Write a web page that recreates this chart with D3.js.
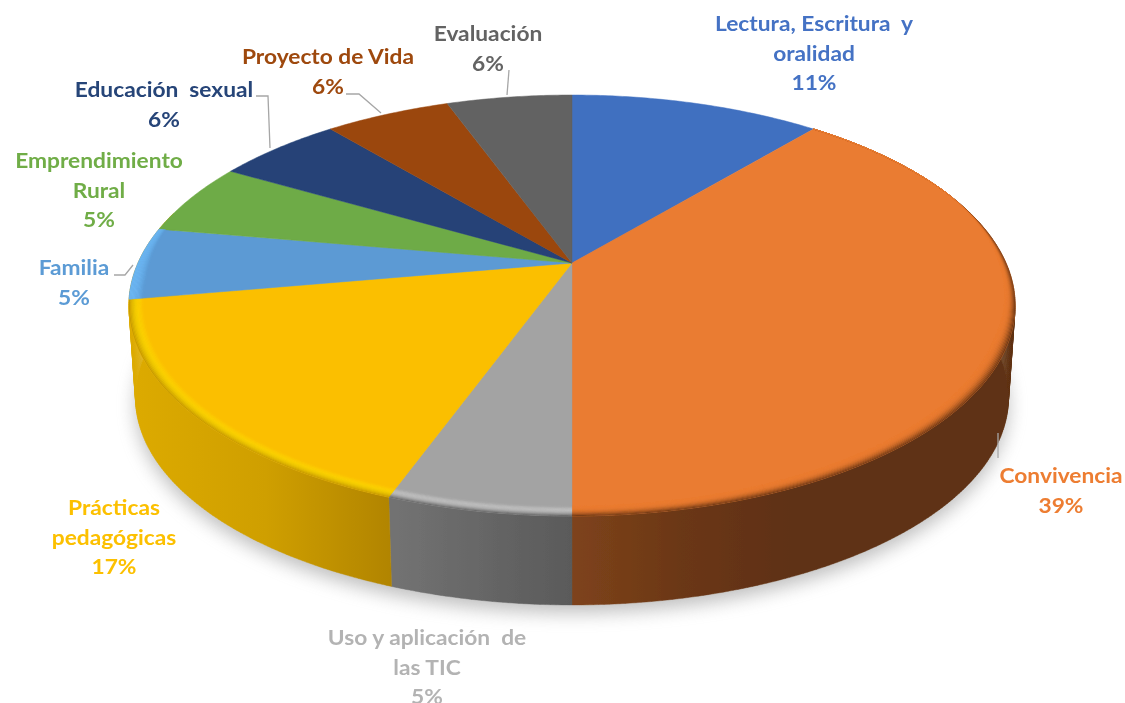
<!DOCTYPE html>
<html>
<head>
<meta charset="utf-8">
<script src="https://cdn.jsdelivr.net/npm/d3@7"></script>
<style>
  html, body { margin: 0; background: #fff; }
  text { font-family: Lato, "Open Sans", sans-serif; font-weight: 700; font-size: 20.5px; text-anchor: middle; white-space: pre; }
</style>
</head>
<body>
<svg id="chart" width="1125" height="703"></svg>
<script>
// values (the labels are rounded oddly in the original)
let categories = ["Lectura, Escritura  y oralidad", "Convivencia", "Uso y aplicación  de las TIC",
                  "Prácticas pedagógicas", "Familia", "Emprendimiento Rural",
                  "Educación  sexual", "Proyecto de Vida", "Evaluación"];
let counts = [4, 14, 2, 6, 2, 2, 2, 2, 2];
let percent_labels = ["11%", "39%", "5%", "17%", "5%", "5%", "6%", "6%", "6%"];
let label_lines = [["Lectura, Escritura  y", "oralidad"], ["Convivencia"], ["Uso y aplicación  de", "las TIC"],
                   ["Prácticas", "pedagógicas"], ["Familia"], ["Emprendimiento", "Rural"],
                   ["Educación  sexual"], ["Proyecto de Vida"], ["Evaluación"]];

let colors = ["#4170c0", "#ea7b30", "#a3a3a3", "#fbbf00", "#5b9ad4", "#6eab46", "#254377", "#9b470d", "#626262"];
let label_colors = ["#4472c4", "#ed7d31", "#b3b3b3", "#fcc000", "#5b9bd5", "#70ad47", "#264478", "#9e480e", "#636363"];

// layout: first line centre of each label
let label_pos = [[814, 24], [1061, 476], [427, 638], [114, 508], [74, 268], [99, 161], [164, 90], [328, 57], [488, 34]];
let leaders = [null, [[998, 433], [998, 458]], null, null, [[114, 275], [125, 275], [133, 265]], null,
               [[256, 96], [268, 96], [270, 148]], [[346, 94], [359, 94], [381, 113]], [[509, 70], [507, 95]]];

// side wall shading, left to right in screen space; only the front slices show a wall
let side_stops = {
  1: ["#7e431b", "#6b3716", "#5f3012", "#5e3012"],
  2: ["#727272", "#5a5a5a"],
  3: ["#dcaa00", "#cf9f00", "#b08300"]
};
let side_range = {1: [572, 900], 2: [397, 572], 3: [135, 397]};
let rim_stops = {
  1: ["#ea7b30", "#ea7b30", "#6a3615"],
  2: ["#a3a3a3", "#d6d6d6", "#606060"],
  3: ["#fbbf00", "#ffdf00", "#c39600"],
  4: ["#5b9ad4", "#6cb6f2", "#6cb6f2"]
};

let cx = 572, cy = 263, a = 434, b = 201.9, k = 0.2019;
let drop = 92.8, shrink = 0.985;
let text_stretch = 1.11;
let tau = 2 * Math.PI;
let deg = Math.PI / 180;

// tilted disc in perspective: r 0..1, angle clockwise from the top
function project(r, angle, bottom) {
  let u = r * Math.sin(angle), v = -r * Math.cos(angle), w = 1 - k * v;
  if (bottom) return [cx + shrink * a * u / w, cy + drop + shrink * b * v / w];
  return [cx + a * u / w, cy + b * v / w];
}

function samples(a0, a1) {
  let n = Math.max(2, Math.ceil((a1 - a0) / 0.01));
  return d3.range(n + 1).map(i => a0 + (a1 - a0) * i / n);
}

let line = d3.line();
let arcs = d3.pie().sort(null).value(d => d)(counts);
let svg = d3.select("#chart");
let defs = svg.append("defs");

defs.append("filter").attr("id", "shadow_blur")
  .attr("x", "-10%").attr("y", "-10%").attr("width", "120%").attr("height", "120%")
  .append("feGaussianBlur").attr("stdDeviation", 9);
let soft = defs.append("filter").attr("id", "soft");
soft.append("feGaussianBlur").attr("stdDeviation", 0.45);

Object.keys(side_stops).forEach(i => {
  let g = defs.append("linearGradient").attr("id", "side" + i)
    .attr("gradientUnits", "userSpaceOnUse")
    .attr("x1", side_range[i][0]).attr("x2", side_range[i][1]).attr("y1", 0).attr("y2", 0);
  side_stops[i].forEach((c, j) => {
    g.append("stop").attr("offset", j / (side_stops[i].length - 1)).attr("stop-color", c);
  });
});

// shadow under the pie
svg.append("path")
  .attr("d", line(samples(0, tau).map(t => {
    let p = project(1, t, true);
    return [p[0], p[1] + 8];
  })) + "Z")
  .attr("fill", "#8c8c8c").attr("opacity", 0.55)
  .attr("filter", "url(#shadow_blur)");

let pie = svg.append("g").attr("filter", "url(#soft)");

// side walls, one small quad per step so the silhouette closes at the tangents;
// the yellow wall runs on behind the top face
pie.append("g").selectAll("path")
  .data(arcs.filter(d => side_stops[d.index])).join("path")
  .attr("d", d => {
    let end = d.index == 3 ? d.endAngle + 25 * deg : d.endAngle;
    let ts = samples(d.startAngle, end);
    return ts.slice(1).map((t, j) => line([
      project(1, ts[j], false), project(1, t, false),
      project(1, t, true), project(1, ts[j], true)
    ]) + "Z").join("");
  })
  .attr("fill", d => `url(#side${d.index})`)
  .attr("stroke", d => `url(#side${d.index})`)
  .attr("stroke-width", 0.4);

// top faces
pie.append("g").selectAll("path")
  .data(arcs).join("path")
  .attr("d", d => line([[cx, cy]].concat(samples(d.startAngle, d.endAngle).map(t => project(1, t, false)))) + "Z")
  .attr("fill", (d, i) => colors[i])
  .attr("stroke", (d, i) => colors[i])
  .attr("stroke-width", 0.5);

// bevel round the front of the rim, fading out towards the back
let rim_width = t => 0.032 * Math.min(1, Math.max(0, (t - 68 * deg) / (45 * deg)))
                           * Math.min(1, Math.max(0, (296 * deg - t) / (30 * deg)));
let rim = pie.append("g");
arcs.forEach((d, i) => {
  if (!rim_stops[i]) return;
  let shade = d3.interpolateRgbBasis(rim_stops[i]);
  let rings = 12;
  d3.range(rings).forEach(j => {
    let ts = samples(d.startAngle, d.endAngle);
    let outer = ts.map(t => project(1 - rim_width(t) * j / rings, t, false));
    let inner = ts.slice().reverse().map(t => project(1 - rim_width(t) * (j + 1) / rings, t, false));
    rim.append("path")
      .attr("d", line(outer.concat(inner)) + "Z")
      .attr("fill", shade(1 - (j + 0.5) / rings))
      .attr("stroke", shade(1 - (j + 0.5) / rings))
      .attr("stroke-width", 0.3);
  });
});

// leader lines
svg.append("g").selectAll("path")
  .data(leaders.filter(d => d)).join("path")
  .attr("d", d => line(d))
  .attr("fill", "none").attr("stroke", "#a6a6a6").attr("stroke-width", 1.3);

// labels, the source picture is stretched sideways
let labels = svg.append("g").attr("filter", "url(#soft)");
categories.forEach((name, i) => {
  let lines = label_lines[i].concat(percent_labels[i]);
  lines.forEach((txt, j) => {
    labels.append("text")
      .attr("transform", `translate(${label_pos[i][0]}, ${label_pos[i][1] + j * 29.6}) scale(${text_stretch}, 1)`)
      .attr("dy", "0.35em")
      .attr("fill", label_colors[i])
      .text(txt);
  });
});
</script>
</body>
</html>
